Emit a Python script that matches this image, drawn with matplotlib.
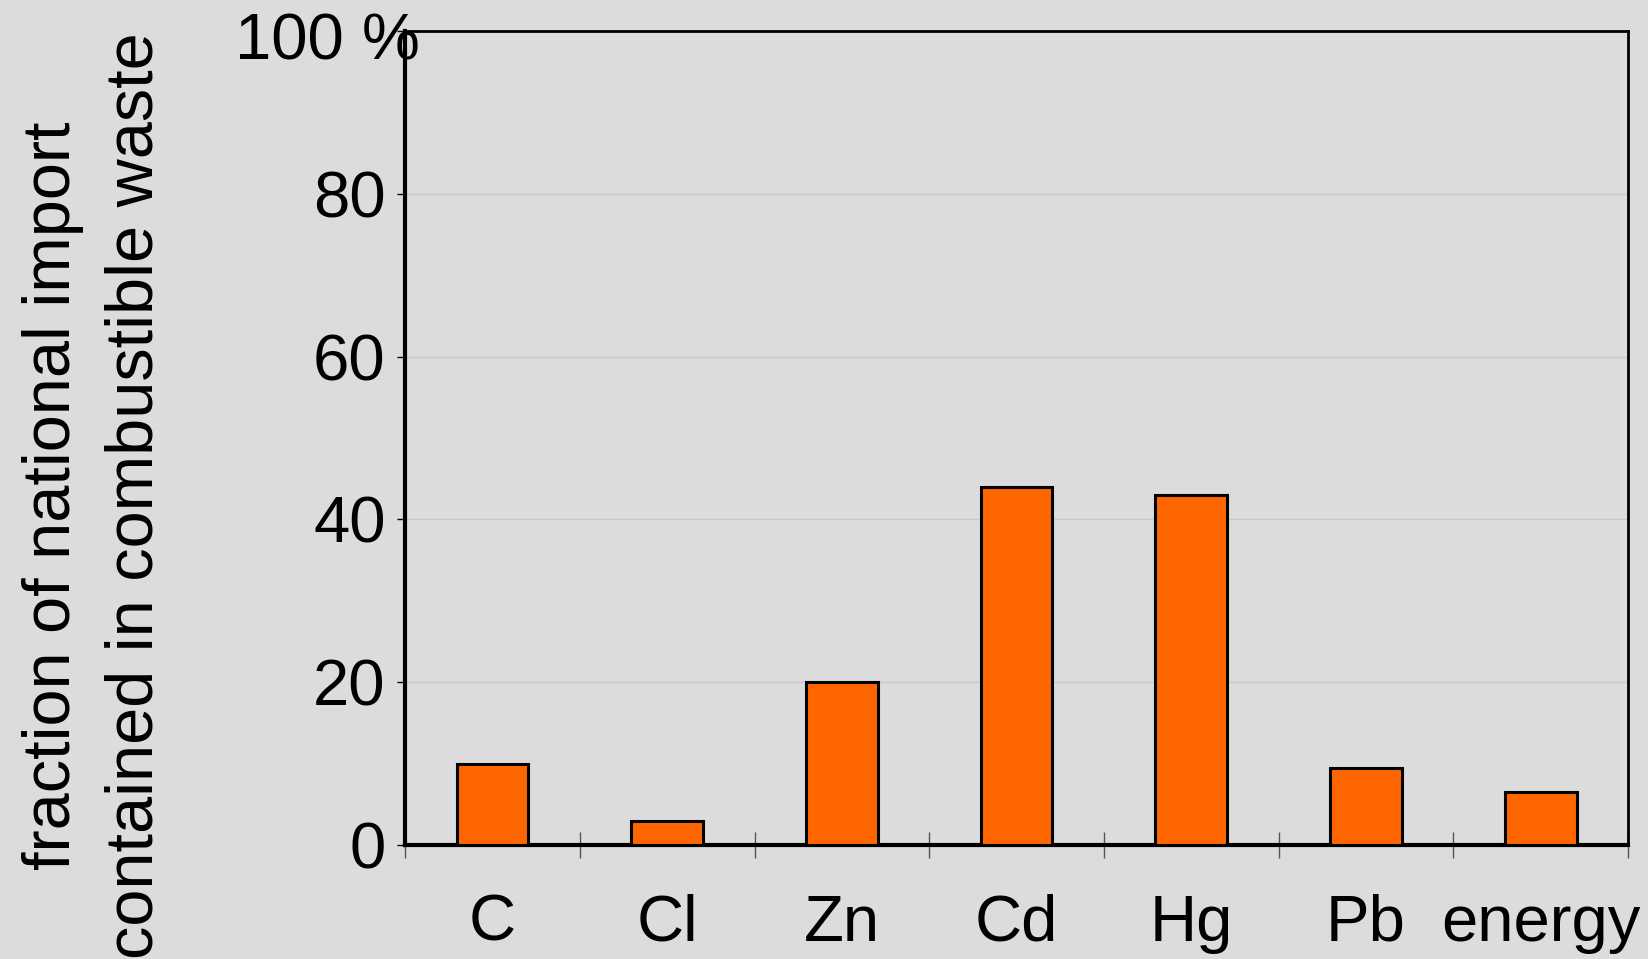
import matplotlib
matplotlib.use("Agg")
import matplotlib.pyplot as plt
import numpy as np

categories = ["C", "Cl", "Zn", "Cd", "Hg", "Pb", "energy"]
values = [10, 3, 20, 44, 43, 9.5, 6.5]
ytick_vals = [0, 20, 40, 60, 80, 100]
ytick_labels = ["0", "20", "40", "60", "80", "100 %"]
ylabel = "fraction of national import\ncontained in combustible waste"

plt.rcParams['font.family'] = ['Liberation Sans', 'DejaVu Sans']
bg = "#dcdcdc"
fig = plt.figure(figsize=(16.48, 9.59), dpi=100, facecolor=bg)
ax = fig.add_axes([0.2458, 0.1189, 0.9879 - 0.2458, 0.9677 - 0.1189])
ax.set_facecolor(bg)

x = np.arange(len(categories)) + 0.5
ax.bar(x, values, width=0.41, color="#ff6600", edgecolor="black", linewidth=2.2, zorder=3)

ax.set_xlim(0, len(categories))
ax.set_ylim(0, 100)

# y axis
ax.set_yticks(ytick_vals)
ax.set_yticklabels(ytick_labels[:-1] + [""], fontsize=47)
ax.tick_params(axis="y", direction="out", length=6, width=1, color="black", pad=8)
# "100 %" overlaps the axis like in the reference
ax.text(-0.139, 98.6, ytick_labels[-1], transform=ax.get_yaxis_transform(),
        ha="left", va="center", fontsize=47, clip_on=False)

# x axis: boundary ticks, labels at centers
ax.set_xticks(np.arange(len(categories) + 1))
ax.set_xticklabels([])
ax.tick_params(axis="x", which="major", direction="inout", length=19, width=1, color="#555555")
ax.set_xticks(x, minor=True)
ax.set_xticklabels(categories, minor=True, fontsize=47)
ax.tick_params(axis="x", which="minor", length=0, pad=35)

ax.grid(axis="y", color="#c8c8c8", linewidth=1, zorder=0)
ax.set_axisbelow(True)

for s in ["left", "bottom"]:
    ax.spines[s].set_linewidth(3)
for s in ["top", "right"]:
    ax.spines[s].set_linewidth(2)

fig.text(0.057, 0.483, ylabel, rotation=90, ha="center", va="center",
         fontsize=48, linespacing=1.42)

fig.savefig("out.png", dpi=100, facecolor=bg)
